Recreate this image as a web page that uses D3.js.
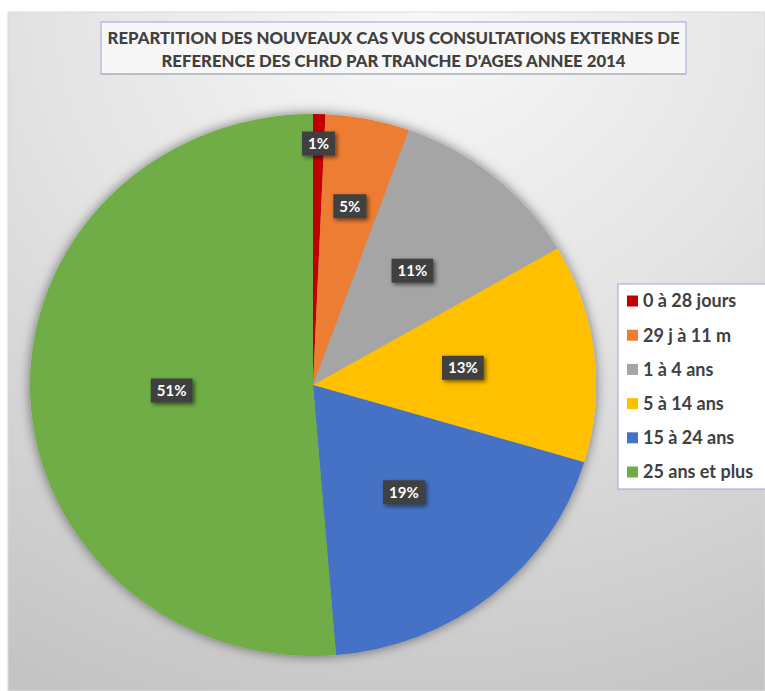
<!DOCTYPE html>
<html>
<head>
<meta charset="utf-8">
<script src="https://cdn.jsdelivr.net/npm/d3@7"></script>
<style>
  body { margin: 0; background: #ffffff; }
  svg { display: block; }
</style>
</head>
<body>
<div id="chart"></div>
<script>
// data (share of new cases, %)
var categories = ["0 à 28 jours", "29 j à 11 m", "1 à 4 ans", "5 à 14 ans", "15 à 24 ans", "25 ans et plus"];
var values = [0.7, 4.8, 11.1, 13.0, 19.1, 51.3];
var titleLines = [
  "REPARTITION DES NOUVEAUX CAS VUS CONSULTATIONS EXTERNES DE",
  "REFERENCE DES CHRD PAR TRANCHE D'AGES ANNEE 2014"
];

var width = 765, height = 691;

var svg = d3.select("#chart")
  .append("svg")
    .attr("width", width)
    .attr("height", height);

var defs = svg.append("defs");

// chart area background
var bg = defs.append("radialGradient")
  .attr("id", "bg")
  .attr("cx", "55%").attr("cy", "0%").attr("r", "110%");
bg.append("stop").attr("offset", "0%").attr("stop-color", "#f8f8f8");
bg.append("stop").attr("offset", "45%").attr("stop-color", "#e4e4e4");
bg.append("stop").attr("offset", "100%").attr("stop-color", "#c4c4c4");

var shadow = defs.append("filter").attr("id", "pieShadow")
  .attr("x", "-10%").attr("y", "-10%").attr("width", "120%").attr("height", "120%");
shadow.append("feDropShadow")
  .attr("dx", 0).attr("dy", 0).attr("stdDeviation", 6)
  .attr("flood-color", "#000").attr("flood-opacity", 0.5);

var lblShadow = defs.append("filter").attr("id", "lblShadow")
  .attr("x", "-30%").attr("y", "-30%").attr("width", "160%").attr("height", "160%");
lblShadow.append("feDropShadow")
  .attr("dx", 2).attr("dy", 2).attr("stdDeviation", 2)
  .attr("flood-color", "#000").attr("flood-opacity", 0.55);

svg.append("rect")
  .attr("x", 8).attr("y", 12)
  .attr("width", width - 8).attr("height", height - 12)
  .attr("fill", "url(#bg)")
  .attr("stroke", "#d9d9d9");

// title box
var titleG = svg.append("g");
titleG.append("rect")
  .attr("x", 101).attr("y", 22)
  .attr("width", 585).attr("height", 52)
  .attr("fill", "#f7f7f7")
  .attr("stroke", "#9aa6d6")
  .attr("stroke-width", 1);
titleG.append("line")
  .attr("x1", 101).attr("x2", 686).attr("y1", 74).attr("y2", 74)
  .attr("stroke", "#a9b5a9");
var titleLens = [572, 464];
titleG.selectAll("text.title")
  .data(titleLines)
  .enter()
  .append("text")
    .attr("class", "title")
    .attr("x", 393.5)
    .attr("y", function(d, i) { return 44 + i * 23; })
    .attr("text-anchor", "middle")
    .attr("textLength", function(d, i) { return titleLens[i]; })
    .attr("lengthAdjust", "spacingAndGlyphs")
    .style("font-family", "Lato, 'Open Sans', sans-serif")
    .style("font-weight", "900")
    .style("font-size", "17px")
    .style("fill", "#404040")
    .text(function(d) { return d; });

// pie (slightly squashed vertically, as in the picture)
var cx = 313, cy = 385, rx = 283, ry = 271;
var total = d3.sum(values);

var color = d3.scaleOrdinal()
  .domain(categories)
  .range(["#c00000", "#ed7d31", "#a5a5a5", "#ffc000", "#4472c4", "#70ad47"]);

var pie = d3.pie().sort(null).value(function(d) { return d.value; });
var data = categories.map(function(c, i) { return { cat: c, value: values[i] }; });
var arcs = pie(data);

var arc = d3.arc().innerRadius(0).outerRadius(rx);

var pieG = svg.append("g")
  .attr("transform", "translate(" + cx + "," + cy + ") scale(1," + (ry / rx) + ")")
  .attr("filter", "url(#pieShadow)");

pieG.selectAll("path")
  .data(arcs)
  .enter()
  .append("path")
    .attr("d", arc)
    .attr("fill", function(d) { return color(d.data.cat); });

// data labels: pushed outward when the slice is thin
var pct = d3.format(".0%");
function labelPos(d) {
  var frac = d.data.value / total;
  var k = 0.5 + 0.45 * Math.exp(-frac / 0.05);
  var a = (d.startAngle + d.endAngle) / 2;
  return [cx + Math.sin(a) * rx * k, cy - Math.cos(a) * ry * k];
}

var labels = svg.selectAll("g.lbl")
  .data(arcs)
  .enter()
  .append("g")
    .attr("class", "lbl")
    .attr("transform", function(d) { return "translate(" + labelPos(d) + ")"; });

labels.append("rect")
  .attr("fill", "#404040")
  .attr("filter", "url(#lblShadow)");

labels.append("text")
  .attr("text-anchor", "middle")
  .attr("dy", "0.36em")
  .style("font-family", "Lato, 'Open Sans', sans-serif")
  .style("font-weight", "bold")
  .style("font-size", "15px")
  .style("fill", "#ffffff")
  .text(function(d) { return pct(d.data.value / total); })
  .each(function() {
    var w = this.getComputedTextLength() + 12;
    d3.select(this.parentNode).select("rect")
      .attr("x", -w / 2).attr("y", -12)
      .attr("width", w).attr("height", 24);
  });

// legend
var legendG = svg.append("g");
legendG.append("rect")
  .attr("x", 618).attr("y", 284)
  .attr("width", 150).attr("height", 205)
  .attr("fill", "#ffffff")
  .attr("stroke", "#9aa6d6");

var ly = d3.scalePoint().domain(categories).range([301, 472]);

var items = legendG.selectAll("g.item")
  .data(categories)
  .enter()
  .append("g")
    .attr("class", "item")
    .attr("transform", function(d) { return "translate(627," + ly(d) + ")"; });

items.append("rect")
  .attr("x", 0).attr("y", -5.5)
  .attr("width", 11).attr("height", 11)
  .attr("fill", function(d) { return color(d); });

items.append("text")
  .attr("x", 16)
  .attr("dy", "0.35em")
  .style("font-family", "Lato, 'Open Sans', sans-serif")
  .style("font-weight", "bold")
  .style("font-size", "18px")
  .style("fill", "#404040")
  .text(function(d) { return d; });
</script>
</body>
</html>
